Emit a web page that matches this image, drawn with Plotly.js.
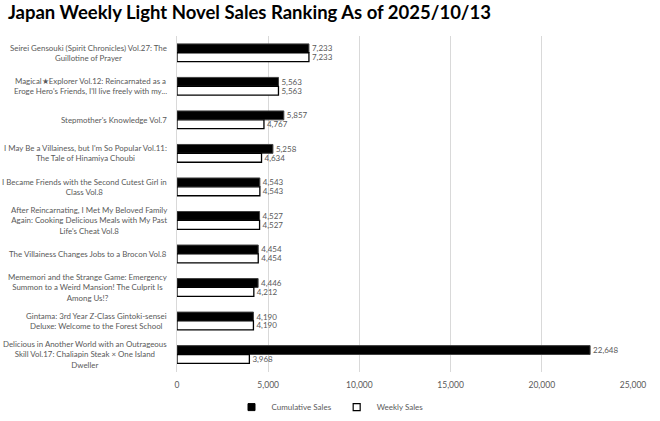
<!DOCTYPE html>
<html>
<head>
<meta charset="utf-8">
<script src="https://cdn.plot.ly/plotly-3.0.1.min.js"></script>
<style>
  html, body { margin: 0; padding: 0; background: #fff; }
  #chart { width: 660px; height: 421px; }
</style>
</head>
<body>
<div id="chart"></div>
<script>
// titles, top to bottom
const titles = [
    "Seirei Gensouki (Spirit Chronicles) Vol.27: The<br>Guillotine of Prayer",
    "Magical★Explorer Vol.12: Reincarnated as a<br>Eroge Hero's Friends, I'll live freely with my...",
    "Stepmother's Knowledge Vol.7",
    "I May Be a Villainess, but I'm So Popular Vol.11:<br>The Tale of Hinamiya Choubi",
    "I Became Friends with the Second Cutest Girl in<br>Class Vol.8",
    "After Reincarnating, I Met My Beloved Family<br>Again: Cooking Delicious Meals with My Past<br>Life's Cheat Vol.8",
    "The Villainess Changes Jobs to a Brocon Vol.8",
    "Mememori and the Strange Game: Emergency<br>Summon to a Weird Mansion! The Culprit Is<br>Among Us!?",
    "Gintama: 3rd Year Z-Class Gintoki-sensei<br>Deluxe: Welcome to the Forest School",
    "Delicious in Another World with an Outrageous<br>Skill Vol.17: Chaliapin Steak × One Island<br>Dweller"
];
const cumulativeSales = [7233, 5563, 5857, 5258, 4543, 4527, 4454, 4446, 4190, 22648];
const weeklySales     = [7233, 5563, 4767, 4634, 4543, 4527, 4454, 4212, 4190, 3968];

const xTicks = [0, 5000, 10000, 15000, 20000, 25000];

const grey = '#595959';
const fmt = v => v.toLocaleString('en-US');

const traceCum = {
    type: 'bar', orientation: 'h',
    name: 'Cumulative Sales', showlegend: false,
    y: titles, x: cumulativeSales,
    marker: { color: '#000', line: { color: '#404040', width: 1 } },
    text: cumulativeSales.map(fmt),
    textposition: 'outside', cliponaxis: false, constraintext: 'none',
    textfont: { family: 'Lato, sans-serif', size: 8, color: grey },
    hoverinfo: 'x'
};
const traceWeek = {
    type: 'bar', orientation: 'h',
    name: 'Weekly Sales', showlegend: false,
    y: titles, x: weeklySales,
    marker: { color: '#fff', line: { color: '#000', width: 1.3 } },
    text: weeklySales.map(fmt),
    textposition: 'outside', cliponaxis: false, constraintext: 'none',
    textfont: { family: 'Lato, sans-serif', size: 8, color: grey },
    hoverinfo: 'x'
};

// legend entries with small square keys, like the original
const legCum = {
    type: 'scatter', mode: 'markers', x: [null], y: [null],
    name: 'Cumulative Sales',
    marker: { symbol: 'square', size: 7, color: '#000', line: { color: '#000', width: 1 } }
};
const legWeek = {
    type: 'scatter', mode: 'markers', x: [null], y: [null],
    name: 'Weekly Sales',
    marker: { symbol: 'square', size: 7, color: '#fff', line: { color: '#000', width: 1.2 } }
};

// category labels as centred annotations (Plotly tick labels are right-aligned)
const labelAnns = titles.map(t => ({
    xref: 'paper', yref: 'y', x: -0.018, y: t,
    xanchor: 'right', yanchor: 'middle', align: 'center',
    text: t, showarrow: false,
    font: { family: 'Lato, sans-serif', size: 7.9, color: grey }
}));

const layout = {
    width: 660, height: 421,
    paper_bgcolor: '#fff', plot_bgcolor: '#fff',
    margin: { t: 36, b: 49, l: 177, r: 27 },
    title: {
        text: '<b>Japan Weekly Light Novel Sales Ranking As of 2025/10/13</b>',
        x: 0.012, xanchor: 'left', y: 0.985, yanchor: 'top',
        font: { family: 'Lato, sans-serif', size: 18.5, color: '#000' }
    },
    barmode: 'group', bargap: 0.47, bargroupgap: 0,
    xaxis: {
        range: [0, 25000], tickvals: xTicks,
        ticktext: xTicks.map(fmt),
        showgrid: true, gridcolor: '#d9d9d9', gridwidth: 1,
        zeroline: false, showline: false,
        tickfont: { family: 'Lato, sans-serif', size: 8.5, color: grey },
        ticks: '', ticklen: 0, ticklabelstandoff: 6
    },
    yaxis: {
        autorange: 'reversed', showticklabels: false,
        showline: true, linecolor: '#d9d9d9', linewidth: 1,
        ticks: '', showgrid: false
    },
    showlegend: true,
    legend: {
        orientation: 'h', xref: 'container', x: 0.5, xanchor: 'center',
        yref: 'container', y: 0.033, yanchor: 'middle',
        traceorder: 'normal',
        font: { family: 'Lato, sans-serif', size: 8, color: grey },
        itemwidth: 30
    },
    annotations: labelAnns
};

Plotly.newPlot('chart', [traceCum, traceWeek, legCum, legWeek], layout, { displayModeBar: false, staticPlot: true });
</script>
</body>
</html>
